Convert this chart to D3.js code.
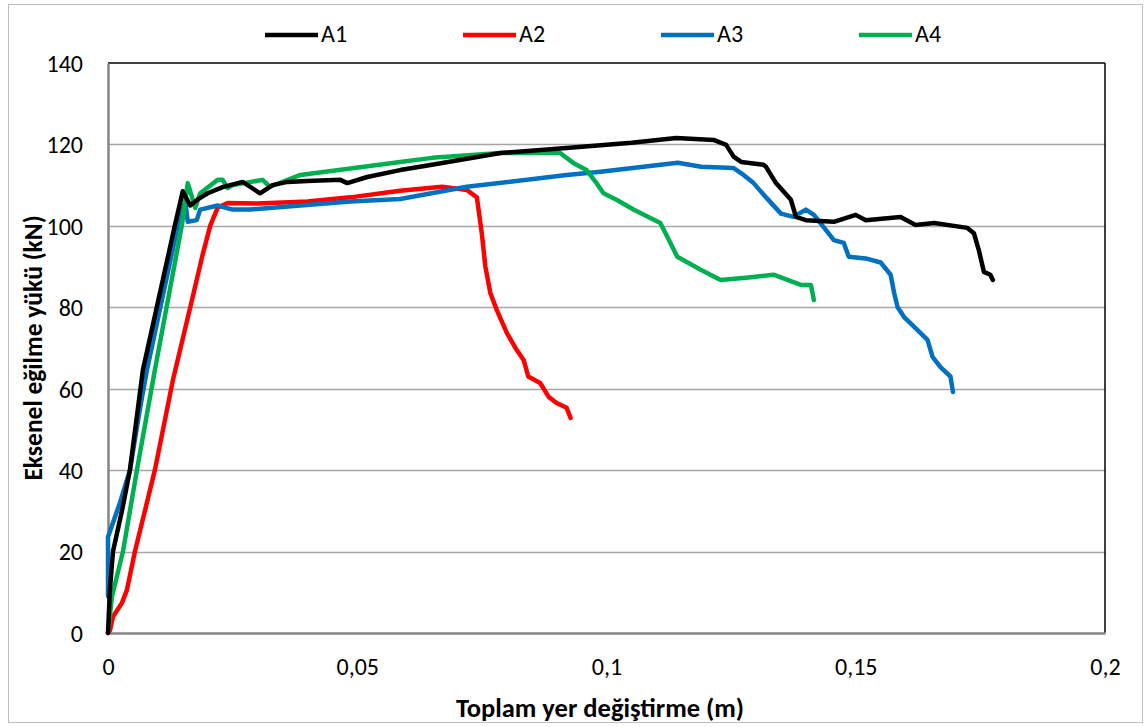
<!DOCTYPE html>
<html>
<head>
<meta charset="utf-8">
<script src="https://cdn.jsdelivr.net/npm/d3@7"></script>
<style>
  body { margin: 0; background: #fff; }
  text { font-family: Calibri, Carlito, "Open Sans", "Noto Sans", sans-serif; }
</style>
</head>
<body>
<svg id="chart" width="1148" height="727"></svg>
<script>
// displacement (m) / load (kN)
var a1X = [0, 0.0004, 0.001, 0.0028, 0.0044, 0.007, 0.0134, 0.015, 0.0165, 0.018, 0.02, 0.023, 0.027, 0.0305, 0.033, 0.036, 0.04, 0.0466, 0.048, 0.052, 0.0586, 0.065, 0.0787, 0.092, 0.105, 0.114, 0.1215, 0.124, 0.1255, 0.127, 0.1315, 0.132, 0.134, 0.137, 0.138, 0.14, 0.1456, 0.15, 0.152, 0.159, 0.162, 0.1657, 0.1724, 0.1737, 0.1747, 0.1757, 0.177, 0.1775];
var a1Y = [0, 11, 20, 30, 40, 64.6, 100, 108.5, 105, 106.5, 108, 109.5, 110.8, 108, 110, 110.8, 111, 111.3, 110.5, 112, 113.7, 115, 117.9, 119.1, 120.4, 121.6, 121.1, 119.9, 117, 115.7, 115, 114.5, 110.5, 106.4, 102.2, 101.4, 101, 102.7, 101.4, 102.2, 100.2, 100.7, 99.5, 98.2, 94, 88.7, 88, 86.7];

var a2X = [0, 0.0004, 0.001, 0.0028, 0.0038, 0.0054, 0.0094, 0.013, 0.0165, 0.019, 0.0205, 0.022, 0.024, 0.03, 0.04, 0.0486, 0.0586, 0.067, 0.072, 0.074, 0.075, 0.0757, 0.0767, 0.078, 0.08, 0.082, 0.0834, 0.0843, 0.0867, 0.0884, 0.09, 0.092, 0.0928];
var a2Y = [0, 0.7, 4, 7.4, 10.6, 20, 40, 62, 80, 93, 100, 104.5, 105.6, 105.5, 106, 107, 108.6, 109.6, 108.8, 107, 98, 90, 83.5, 79.3, 73.7, 69.5, 67, 63, 61.4, 58, 56.5, 55.3, 52.8];

var a3X = [0, 0, 0.0024, 0.0044, 0.0064, 0.0078, 0.014, 0.0155, 0.016, 0.0178, 0.0185, 0.022, 0.025, 0.0285, 0.0386, 0.0486, 0.0586, 0.072, 0.092, 0.0988, 0.1143, 0.119, 0.1255, 0.1275, 0.1295, 0.132, 0.135, 0.1375, 0.14, 0.1416, 0.144, 0.1456, 0.1476, 0.1486, 0.152, 0.155, 0.157, 0.1577, 0.1584, 0.1597, 0.1624, 0.1644, 0.1654, 0.167, 0.169, 0.1695];
var a3Y = [9, 23.6, 32, 40, 55, 64.5, 100, 106, 101, 101.4, 104, 105, 104, 104, 105, 106, 106.6, 109.6, 112.5, 113.3, 115.5, 114.5, 114.2, 112.5, 110.5, 107, 103, 102.2, 104, 102.7, 99, 96.5, 95.8, 92.4, 92, 91, 88, 83.5, 80, 77.6, 74.4, 72, 67.8, 65.3, 63, 59.2];

var a4X = [0, 0.0008, 0.003, 0.0058, 0.0094, 0.0148, 0.016, 0.0175, 0.0185, 0.022, 0.023, 0.024, 0.025, 0.031, 0.0325, 0.0386, 0.0586, 0.065, 0.0787, 0.0907, 0.0934, 0.096, 0.098, 0.0994, 0.102, 0.1054, 0.1108, 0.1122, 0.1142, 0.1189, 0.1229, 0.129, 0.1335, 0.139, 0.141, 0.1416];
var a4Y = [0, 9, 20, 40, 64.6, 100, 110.5, 104.4, 108, 111.3, 111.3, 109.3, 110, 111.3, 109.6, 112.5, 115.7, 116.7, 117.9, 117.9, 115.4, 113.7, 110.5, 108, 106.4, 104, 100.7, 97.3, 92.4, 89.2, 86.7, 87.4, 88, 85.5, 85.5, 81.8];

var seriesNames = ["A1", "A2", "A3", "A4"];
var seriesColors = ["#000000", "#ff0000", "#0070c0", "#00b050"];
var xTicks = [0, 0.05, 0.1, 0.15, 0.2];
var yTicks = [0, 20, 40, 60, 80, 100, 120, 140];

var svg = d3.select("#chart");
var pL = 108, pR = 1105, pT = 63, pB = 633;

var x = d3.scaleLinear().domain([0, 0.2]).range([pL, pR]);
var y = d3.scaleLinear().domain([0, 140]).range([pB, pT]);

// outer frame
svg.append("rect").attr("x", 8.5).attr("y", 4.5).attr("width", 1134).attr("height", 718)
  .attr("fill", "none").attr("stroke", "#bfbfbf").attr("stroke-width", 1);

// grid
svg.append("g").selectAll("line").data(yTicks.slice(1, -1)).enter().append("line")
  .attr("x1", pL).attr("x2", pR)
  .attr("y1", function(d) { return Math.round(y(d)) + 0.5; })
  .attr("y2", function(d) { return Math.round(y(d)) + 0.5; })
  .attr("stroke", "#a6a6a6").attr("stroke-width", 1.5);

// plot box: top and right black, left and bottom gray axes
svg.append("line").attr("x1", pL).attr("x2", pR).attr("y1", pT).attr("y2", pT)
  .attr("stroke", "#000").attr("stroke-width", 1.5);
svg.append("line").attr("x1", pR).attr("x2", pR).attr("y1", pT).attr("y2", pB)
  .attr("stroke", "#000").attr("stroke-width", 1.5);

var xAxis = d3.axisBottom(x).tickValues(xTicks).tickSize(0)
  .tickFormat(function(d) { return String(d).replace(".", ","); });
var gx = svg.append("g").attr("transform", "translate(0," + pB + ")").call(xAxis);
gx.select(".domain").attr("stroke", "#868686").attr("stroke-width", 2.5);
gx.selectAll("text").attr("dy", 0).attr("y", 42).attr("font-size", 24).attr("fill", "#000");

var yAxis = d3.axisLeft(y).tickValues(yTicks).tickSize(0);
var gy = svg.append("g").attr("transform", "translate(" + pL + ",0)").call(yAxis);
gy.select(".domain").attr("stroke", "#868686").attr("stroke-width", 2.5);
gy.selectAll("text").attr("x", -25).attr("dy", "0.35em").attr("font-size", 24).attr("fill", "#000");

// series
var xs = [a1X, a2X, a3X, a4X];
var ys = [a1Y, a2Y, a3Y, a4Y];
var line = d3.line().x(function(d) { return x(d[0]); }).y(function(d) { return y(d[1]); });
[1, 2, 3, 0].forEach(function(i) {
  var pts = xs[i].map(function(v, j) { return [v, ys[i][j]]; });
  svg.append("path").datum(pts).attr("d", line)
    .attr("fill", "none").attr("stroke", seriesColors[i]).attr("stroke-width", 4.5)
    .attr("stroke-linejoin", "round").attr("stroke-linecap", "round");
});

// legend
var legend = svg.append("g");
seriesNames.forEach(function(n, i) {
  var lx = 265 + i * 198;
  legend.append("line").attr("x1", lx).attr("x2", lx + 53).attr("y1", 35).attr("y2", 35)
    .attr("stroke", seriesColors[i]).attr("stroke-width", 4.5);
  legend.append("text").attr("x", lx + 56).attr("y", 42).attr("font-size", 24).text(n);
});

// axis titles
svg.append("text").attr("x", 600).attr("y", 717).attr("text-anchor", "middle")
  .attr("font-size", 26.5).attr("font-weight", "bold").text("Toplam yer değiştirme (m)");
svg.append("text").attr("transform", "translate(42," + 348 + ") rotate(-90)").attr("text-anchor", "middle")
  .attr("font-size", 25.5).attr("font-weight", "bold").text("Eksenel eğilme yükü (kN)");
</script>
</body>
</html>
